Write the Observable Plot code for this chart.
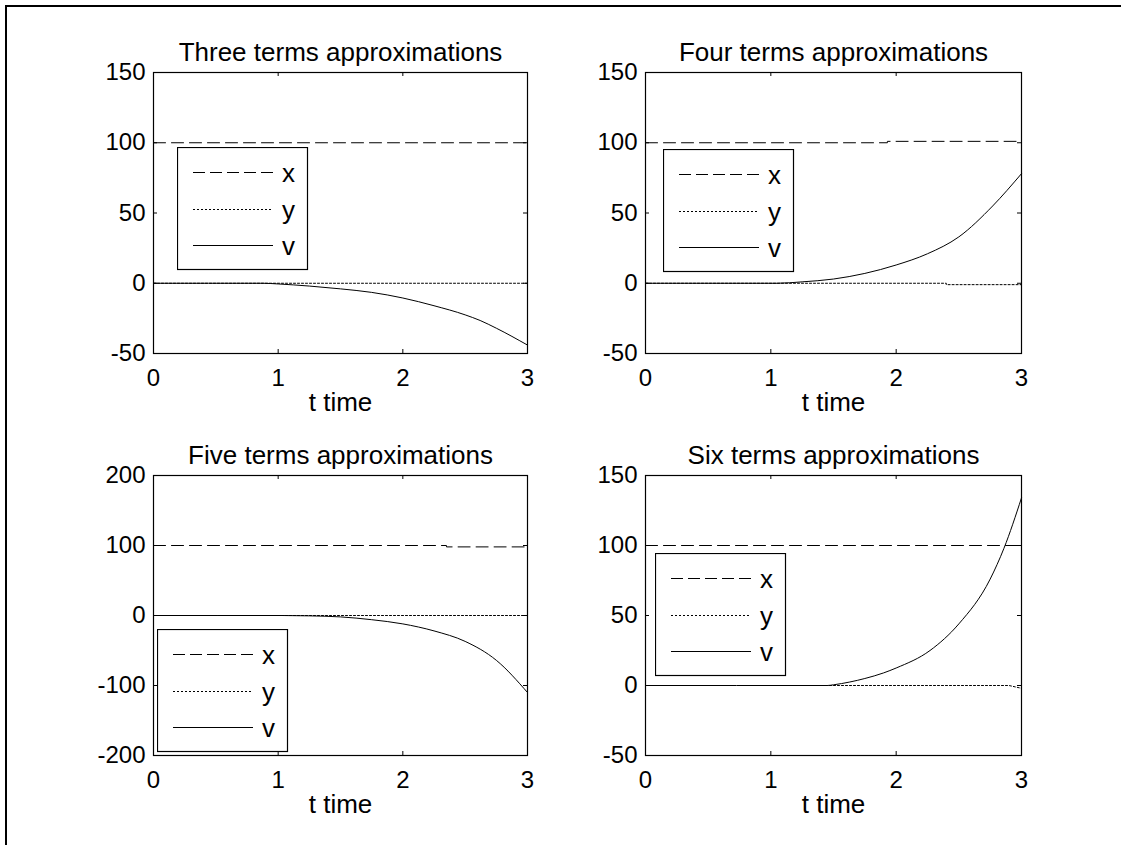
<!DOCTYPE html>
<html>
<head>
<meta charset="utf-8">
<script src="https://cdn.jsdelivr.net/npm/d3@7"></script>
<script src="https://cdn.jsdelivr.net/npm/@observablehq/plot@0.6"></script>
<style>
  html, body { margin: 0; padding: 0; background: #fff; overflow: hidden; }
  #root { position: relative; width: 1121px; height: 845px; overflow: hidden; background: #fff;
          font-family: "Liberation Sans", Arial, sans-serif; }
  #border { position: absolute; left: 5px; top: 5px; width: 1200px; height: 900px;
            border-left: 2px solid #000; border-top: 2px solid #000; }
  .panel { position: absolute; }
  .legend { position: absolute; }
</style>
</head>
<body>
<div id="root"><div id="border"></div></div>
<script>
// ---------- data ----------
const titles = ["Three terms approximations", "Four terms approximations",
                "Five terms approximations", "Six terms approximations"];
const xLabel = "t time";
const seriesNames = ["x", "y", "v"];
const tTicks = [0, 1, 2, 3];
const yTicksA = [-50, 0, 50, 100, 150];
const yTicksB = [-200, -100, 0, 100, 200];

// Three terms
const t3x = [0, 3], x3 = [100, 100];
const t3y = [0, 3], y3 = [0, 0];
const t3v = [0, 0.88, 1.0, 1.25, 1.5, 1.75, 2.0, 2.25, 2.5, 2.62, 2.75, 3.0];
const v3  = [0, 0, -0.5, -2, -4, -6.5, -10.5, -16, -22.5, -26.5, -32, -44];

// Four terms
const t4x = [0, 1.93, 1.93, 3], x4 = [100, 100, 101, 101];
const t4y = [0, 2.4, 2.4, 3], y4 = [0, 0, -1, -1];
const t4v = [0, 1.05, 1.25, 1.5, 1.75, 2.0, 2.25, 2.5, 2.77, 3.0];
const v4  = [0, 0, 1, 3, 7, 13, 21, 33, 55, 78];

// Five terms
const t5x = [0, 2.35, 2.35, 3], x5 = [100, 100, 98, 98];
const t5y = [0, 3], y5 = [0, 0];
const t5v = [0, 1.03, 1.25, 1.5, 1.75, 2.0, 2.25, 2.5, 2.75, 3.0];
const v5  = [0, 0, -0.5, -2, -6, -12, -22, -37, -64, -110];

// Six terms
const t6x = [0, 3], x6 = [100, 100];
const t6y = [0, 2.9, 3.0], y6 = [0, 0, -2];
const t6v = [0, 1.45, 1.5, 1.63, 1.75, 1.9, 2.0, 2.27, 2.5, 2.75, 2.86, 3.0];
const v6  = [0, 0, 0.5, 2.5, 5, 9, 12.5, 25, 44, 76, 98, 134];

// ---------- helpers ----------
const zip = (ts, vs) => ts.map((t, i) => ({t, value: vs[i]}));
const DASH = "12,6", DOT = "2,2";
const FONT = "'Liberation Sans', Arial, sans-serif";

function panel(cfg) {
  const {left, top, width, height, mL, mR, mT, mB, title, yDomain, yTicks, xs, ys, vs, legend} = cfg;
  const fw = width - mL - mR, fh = height - mT - mB;
  const fmt = d => String(d);
  const chart = Plot.plot({
    width, height, marginLeft: mL, marginRight: mR, marginTop: mT, marginBottom: mB,
    x: {domain: [0, 3]},
    y: {domain: yDomain},
    style: {fontFamily: FONT, fontSize: "24px", color: "#000", background: "transparent", overflow: "visible"},
    marks: [
      Plot.line(xs, {x: "t", y: "value", stroke: "#000", strokeWidth: 1, strokeDasharray: DASH}),
      Plot.line(ys, {x: "t", y: "value", stroke: "#000", strokeWidth: 1, strokeDasharray: DOT}),
      Plot.line(vs, {x: "t", y: "value", stroke: "#000", strokeWidth: 1, curve: "monotone-x"}),
      // inward ticks on all four sides
      Plot.tickX(tTicks, {x: d => d, insetTop: fh - 4, stroke: "#000"}),
      Plot.tickX(tTicks, {x: d => d, insetBottom: fh - 4, stroke: "#000"}),
      Plot.tickY(yTicks, {y: d => d, insetRight: fw - 4, stroke: "#000"}),
      Plot.tickY(yTicks, {y: d => d, insetLeft: fw - 4, stroke: "#000"}),
      Plot.frame({stroke: "#000", strokeWidth: 1.2}),
      Plot.axisX(tTicks, {tickSize: 0, tickPadding: 15, tickFormat: fmt, label: null, fontSize: 24}),
      Plot.axisY(yTicks, {tickSize: 0, tickPadding: 8, tickFormat: fmt, label: null, fontSize: 24}),
      Plot.text([title], {text: d => d, frameAnchor: "top", dy: -30, fontSize: 26}),
      Plot.text([xLabel], {text: d => d, frameAnchor: "bottom", dy: 57, fontSize: 26})
    ]
  });
  chart.classList.add("panel");
  chart.style.left = left + "px";
  chart.style.top = top + "px";
  const root = document.getElementById("root");
  root.appendChild(chart);

  // legend box
  const [lx, ly] = legend;
  const lw = 130, lh = 122;
  const styles = ["12,5", DOT, null];
  const rows = [25, 62, 98];
  const ns = "http://www.w3.org/2000/svg";
  const svg = document.createElementNS(ns, "svg");
  svg.setAttribute("width", lw + 2);
  svg.setAttribute("height", lh + 2);
  svg.setAttribute("class", "legend");
  svg.style.left = lx + "px";
  svg.style.top = ly + "px";
  const rect = document.createElementNS(ns, "rect");
  rect.setAttribute("x", 0.5); rect.setAttribute("y", 0.5);
  rect.setAttribute("width", lw); rect.setAttribute("height", lh);
  rect.setAttribute("fill", "#fff"); rect.setAttribute("stroke", "#000"); rect.setAttribute("stroke-width", 1.2);
  svg.appendChild(rect);
  seriesNames.forEach((name, i) => {
    const ln = document.createElementNS(ns, "line");
    ln.setAttribute("x1", 16); ln.setAttribute("x2", 96);
    ln.setAttribute("y1", rows[i] + 0.5); ln.setAttribute("y2", rows[i] + 0.5);
    ln.setAttribute("stroke", "#000"); ln.setAttribute("stroke-width", 1);
    if (styles[i]) ln.setAttribute("stroke-dasharray", styles[i]);
    svg.appendChild(ln);
    const tx = document.createElementNS(ns, "text");
    tx.setAttribute("x", 105);
    tx.setAttribute("y", rows[i] + 1);
    tx.setAttribute("dominant-baseline", "central");
    tx.setAttribute("font-family", FONT);
    tx.setAttribute("font-size", 26);
    tx.textContent = name;
    svg.appendChild(tx);
  });
  root.appendChild(svg);
}

const colL = {left: 0, width: 560, mL: 153, mR: 33};
const colR = {left: 560, width: 561, mL: 85, mR: 100};
const rowT = {top: 0, height: 420, mT: 72, mB: 67};
const rowB = {top: 420, height: 425, mT: 55, mB: 90};

panel({...colL, ...rowT, title: titles[0], yDomain: [-50, 150], yTicks: yTicksA,
  xs: zip(t3x, x3), ys: zip(t3y, y3), vs: zip(t3v, v3), legend: [177, 147]});
panel({...colR, ...rowT, title: titles[1], yDomain: [-50, 150], yTicks: yTicksA,
  xs: zip(t4x, x4), ys: zip(t4y, y4), vs: zip(t4v, v4), legend: [663, 149]});
panel({...colL, ...rowB, title: titles[2], yDomain: [-200, 200], yTicks: yTicksB,
  xs: zip(t5x, x5), ys: zip(t5y, y5), vs: zip(t5v, v5), legend: [157, 629]});
panel({...colR, ...rowB, title: titles[3], yDomain: [-50, 150], yTicks: yTicksA,
  xs: zip(t6x, x6), ys: zip(t6y, y6), vs: zip(t6v, v6), legend: [655, 553]});
</script>
</body>
</html>
